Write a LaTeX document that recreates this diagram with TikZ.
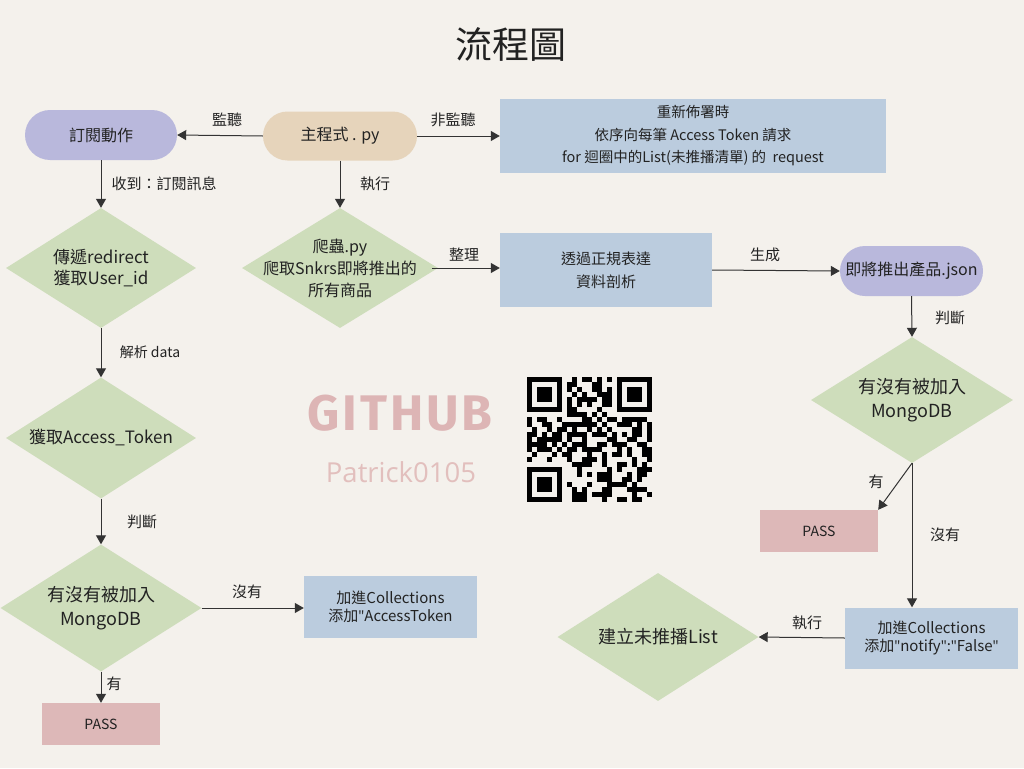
\documentclass[tikz,border=0pt]{standalone}
\usepackage{fontspec}
\setmainfont{Noto Sans CJK TC}
\newfontfamily\ghfont{Fira Sans}[LetterSpace=6]
\newfontfamily\patfont{Open Sans}
\newfontfamily\qfont{Open Sans}
\newcommand{\dq}{{\qfont\symbol{34}}}
\usetikzlibrary{shapes.geometric,shapes.misc,arrows.meta}
\definecolor{bg}{HTML}{F4F1EC}
\definecolor{lav}{HTML}{B9B8DC}
\definecolor{tan}{HTML}{E6D4BB}
\definecolor{bluebox}{HTML}{BBCCDE}
\definecolor{green}{HTML}{CEDDBB}
\definecolor{pink}{HTML}{DDB8B8}
\definecolor{ink}{HTML}{222222}
\definecolor{wire}{HTML}{333333}
\definecolor{ghpink}{HTML}{DDB5B5}
\definecolor{patpink}{HTML}{E2BFBD}
\tikzset{
  pill/.style={rounded rectangle, inner sep=0pt, text=ink, font=\fontsize{16}{19}\selectfont},
  bbox/.style={rectangle, fill=bluebox, inner sep=0pt, align=center, text=ink},
  pbox/.style={rectangle, fill=pink, inner sep=0pt, text=ink, font=\fontsize{14}{17}\selectfont},
  dia/.style={diamond, fill=green, inner sep=0pt},
  dtxt/.style={align=center, text=ink},
  lbl/.style={text=ink, font=\fontsize{15}{18}\selectfont},
  arr/.style={draw=wire, line width=1pt, -{Triangle[length=9pt,width=10pt]}}
}
\begin{document}
\begin{tikzpicture}[x=1pt,y=-1pt]
\fill[bg] (0,0) rectangle (1024,768);
\useasboundingbox (0,0) rectangle (1024,768);

\node[text=ink, font=\fontsize{37}{40}\selectfont] (title) at (511,44) {流程圖};

% top row
\node[pill, fill=lav, minimum width=152pt, minimum height=50pt] (sub) at (101,135) {訂閱動作};
\node[pill, fill=tan, minimum width=154pt, minimum height=49pt] (main) at (340,136) {主程式 . py};
\node[bbox, minimum width=386pt, minimum height=74pt, font=\fontsize{14.5}{22.5}\selectfont] (redeploy) at (693,136)
  {重新佈署時\\依序向每筆 Access Token 請求\\for 迴圈中的List(未推播清單) 的 \ request};

% left column
\node[dia, minimum width=190pt, minimum height=120pt] (d1) at (101,268) {};
\node[dtxt, font=\fontsize{17}{21}\selectfont] (d1t) at (d1) {傳遞redirect\\獲取User\_id};
\node[dia, minimum width=190pt, minimum height=121pt] (d2) at (101,438) {};
\node[dtxt, font=\fontsize{17}{21}\selectfont] (d2t) at (d2) {獲取Access\_Token};
\node[dia, minimum width=201pt, minimum height=127pt] (d3) at (101,608) {};
\node[dtxt, font=\fontsize{18}{24}\selectfont] (d3t) at (d3) {有沒有被加入\\MongoDB};
\node[bbox, minimum width=173pt, minimum height=62pt, font=\fontsize{15}{18.5}\selectfont] (addtok) at (390.5,607) {加進Collections\\添加\dq AccessToken};
\node[pbox, minimum width=118pt, minimum height=42pt] (pass1) at (101,724) {PASS};

% middle
\node[dia, minimum width=196pt, minimum height=120pt] (crawl) at (340,268) {};
\node[dtxt, font=\fontsize{16}{22}\selectfont] (crawlt) at (crawl) {爬蟲.py\\爬取Snkrs即將推出的\\所有商品};
\node[bbox, minimum width=212pt, minimum height=74pt, font=\fontsize{15}{23}\selectfont] (regex) at (606,270) {透過正規表達\\資料剖析};
\node[pill, fill=lav, minimum width=143pt, minimum height=50pt] (json) at (911.5,271) {即將推出產品.json};

% right column
\node[dia, minimum width=202pt, minimum height=126pt] (d4) at (912,400) {};
\node[dtxt, font=\fontsize{18}{24}\selectfont] (d4t) at (d4) {有沒有被加入\\MongoDB};
\node[pbox, minimum width=118pt, minimum height=42pt] (pass2) at (819,531) {PASS};
\node[bbox, minimum width=173pt, minimum height=61pt, font=\fontsize{15}{18.5}\selectfont] (notify) at (931.5,638) {加進Collections\\添加\dq notify\dq:\dq False\dq};
\node[dia, minimum width=201pt, minimum height=128pt] (d5) at (658,637) {};
\node[dtxt, font=\fontsize{18}{22}\selectfont] (d5t) at (d5) {建立未推播List};

% watermark
\node[text=ghpink, font=\ghfont\bfseries\fontsize{50}{54}\selectfont] (gh) at (400,413) {GITHUB};
\node[text=patpink, font=\patfont\fontsize{27.5}{30}\selectfont] (pat) at (401,472) {Patrick0105};

% QR code (drawn)
\begin{scope}
\pgfmathsetseed{1234}
\foreach \i in {0,...,24}{
  \foreach \j in {0,...,24}{
    \pgfmathsetmacro\r{rnd}
    \pgfmathtruncatemacro\inf{((\i<8)&&(\j<8))||((\i>16)&&(\j<8))||((\i<8)&&(\j>16))}
    \ifnum\inf=0
      \ifdim\r pt<0.56pt
        \fill[black] (527+5*\i,377+5*\j) rectangle ++(5,5);
      \fi
    \fi
  }
}
\foreach \ox/\oy in {527/377,617/377,527/467}{
  \fill[black] (\ox,\oy) rectangle ++(35,35);
  \fill[bg] (\ox+5,\oy+5) rectangle ++(25,25);
  \fill[black] (\ox+10,\oy+10) rectangle ++(15,15);
}
\end{scope}

% connectors
\draw[arr] (main.west) -- (sub.east);
\node[lbl] (l1) at (227,120) {監聽};
\draw[arr] (main.east) -- (redeploy.west |- main.east);
\node[lbl] (l2) at (453,120) {非監聽};
\draw[arr] (sub.south) -- (d1.north);
\node[lbl] (l3) at (164,184) {收到：訂閱訊息};
\draw[arr] (main.south) -- (crawl.north);
\node[lbl] (l4) at (375,184) {執行};
\draw[arr] ([xshift=-6pt]crawl.east) -- (regex.west |- crawl.east);
\node[lbl] (l5) at (464,255) {整理};
\draw[arr] (regex.east) -- (json.west);
\node[lbl] (l6) at (765,255) {生成};
\draw[arr] (d1.south) -- (d2.north);
\node[lbl, font=\fontsize{14}{17}\selectfont] (l7) at (150,352) {解析 data};
\draw[arr] (d2.south) -- (d3.north);
\node[lbl] (l8) at (142,522) {判斷};
\draw[arr] (d3.east) -- (addtok.west |- d3.east);
\node[lbl] (l9) at (247,592) {沒有};
\draw[arr] (d3.south) -- (pass1.north);
\node[lbl] (l10) at (114,684) {有};
\draw[arr] (json.south) -- (d4.north);
\node[lbl] (l11) at (950,318) {判斷};
\draw[arr] (d4.south) -- (pass2.north east);
\node[lbl] (l12) at (876,482) {有};
\draw[arr] (d4.south) -- (d4.south |- notify.north);
\node[lbl] (l13) at (945,535) {沒有};
\draw[arr] (notify.west) -- (d5.east);
\node[lbl] (l14) at (807,623) {執行};
\end{tikzpicture}
\end{document}
